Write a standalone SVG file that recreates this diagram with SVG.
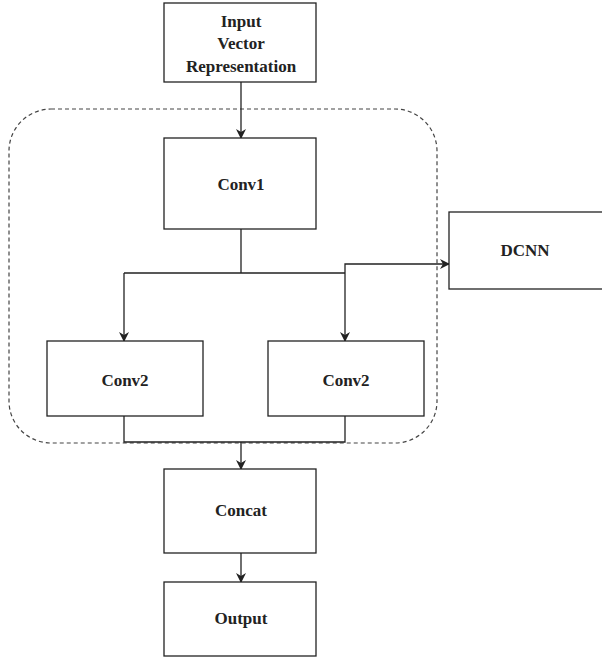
<svg xmlns="http://www.w3.org/2000/svg" width="602" height="657" viewBox="0 0 602 657">
<style>
.box{fill:#fff;stroke:#222;stroke-width:1.3}
.t{font-family:"Liberation Serif",serif;font-weight:bold;font-size:17px;fill:#222;text-anchor:middle}
.c{fill:none;stroke:#222;stroke-width:1.3}
</style>
<defs>
<marker id="ah" markerWidth="10" markerHeight="10" refX="9" refY="5" orient="auto" markerUnits="userSpaceOnUse">
<path d="M0,0 L10,5 L0,10 L3,5 Z" fill="#222"/>
</marker>
</defs>
<rect x="0" y="0" width="602" height="657" fill="#fff"/>
<g id="container"><rect x="9" y="109" width="428" height="334" rx="42" ry="42" fill="none" stroke="#444" stroke-width="1.2" stroke-dasharray="4,3"/></g>
<g id="connectors">
<path class="c" d="M241,82 V138" marker-end="url(#ah)"/>
<path class="c" d="M241,229 V273 M124,273 H345"/>
<path class="c" d="M124,273 V341" marker-end="url(#ah)"/>
<path class="c" d="M345,273 V341" marker-end="url(#ah)"/>
<path class="c" d="M345,273 V264 H449" marker-end="url(#ah)"/>
<path class="c" d="M124,416 V442 H345 V416"/>
<path class="c" d="M241,442 V469" marker-end="url(#ah)"/>
<path class="c" d="M241,553 V582" marker-end="url(#ah)"/>
</g>
<g id="input"><rect class="box" x="164" y="3" width="152" height="79"/>
<text class="t" x="241" y="27">Input</text><text class="t" x="241" y="49">Vector</text><text class="t" x="241" y="72">Representation</text></g>
<g id="conv1"><rect class="box" x="164" y="138" width="152" height="91"/><text class="t" x="241" y="190">Conv1</text></g>
<g id="dcnn"><rect class="box" x="449" y="212" width="160" height="77"/><text class="t" x="525" y="256">DCNN</text></g>
<g id="conv2a"><rect class="box" x="47" y="341" width="156" height="75"/><text class="t" x="125" y="386">Conv2</text></g>
<g id="conv2b"><rect class="box" x="268" y="341" width="156" height="75"/><text class="t" x="346" y="386">Conv2</text></g>
<g id="concat"><rect class="box" x="164" y="469" width="152" height="84"/><text class="t" x="241" y="516">Concat</text></g>
<g id="output"><rect class="box" x="164" y="582" width="152" height="74"/><text class="t" x="241" y="624">Output</text></g>
</svg>
